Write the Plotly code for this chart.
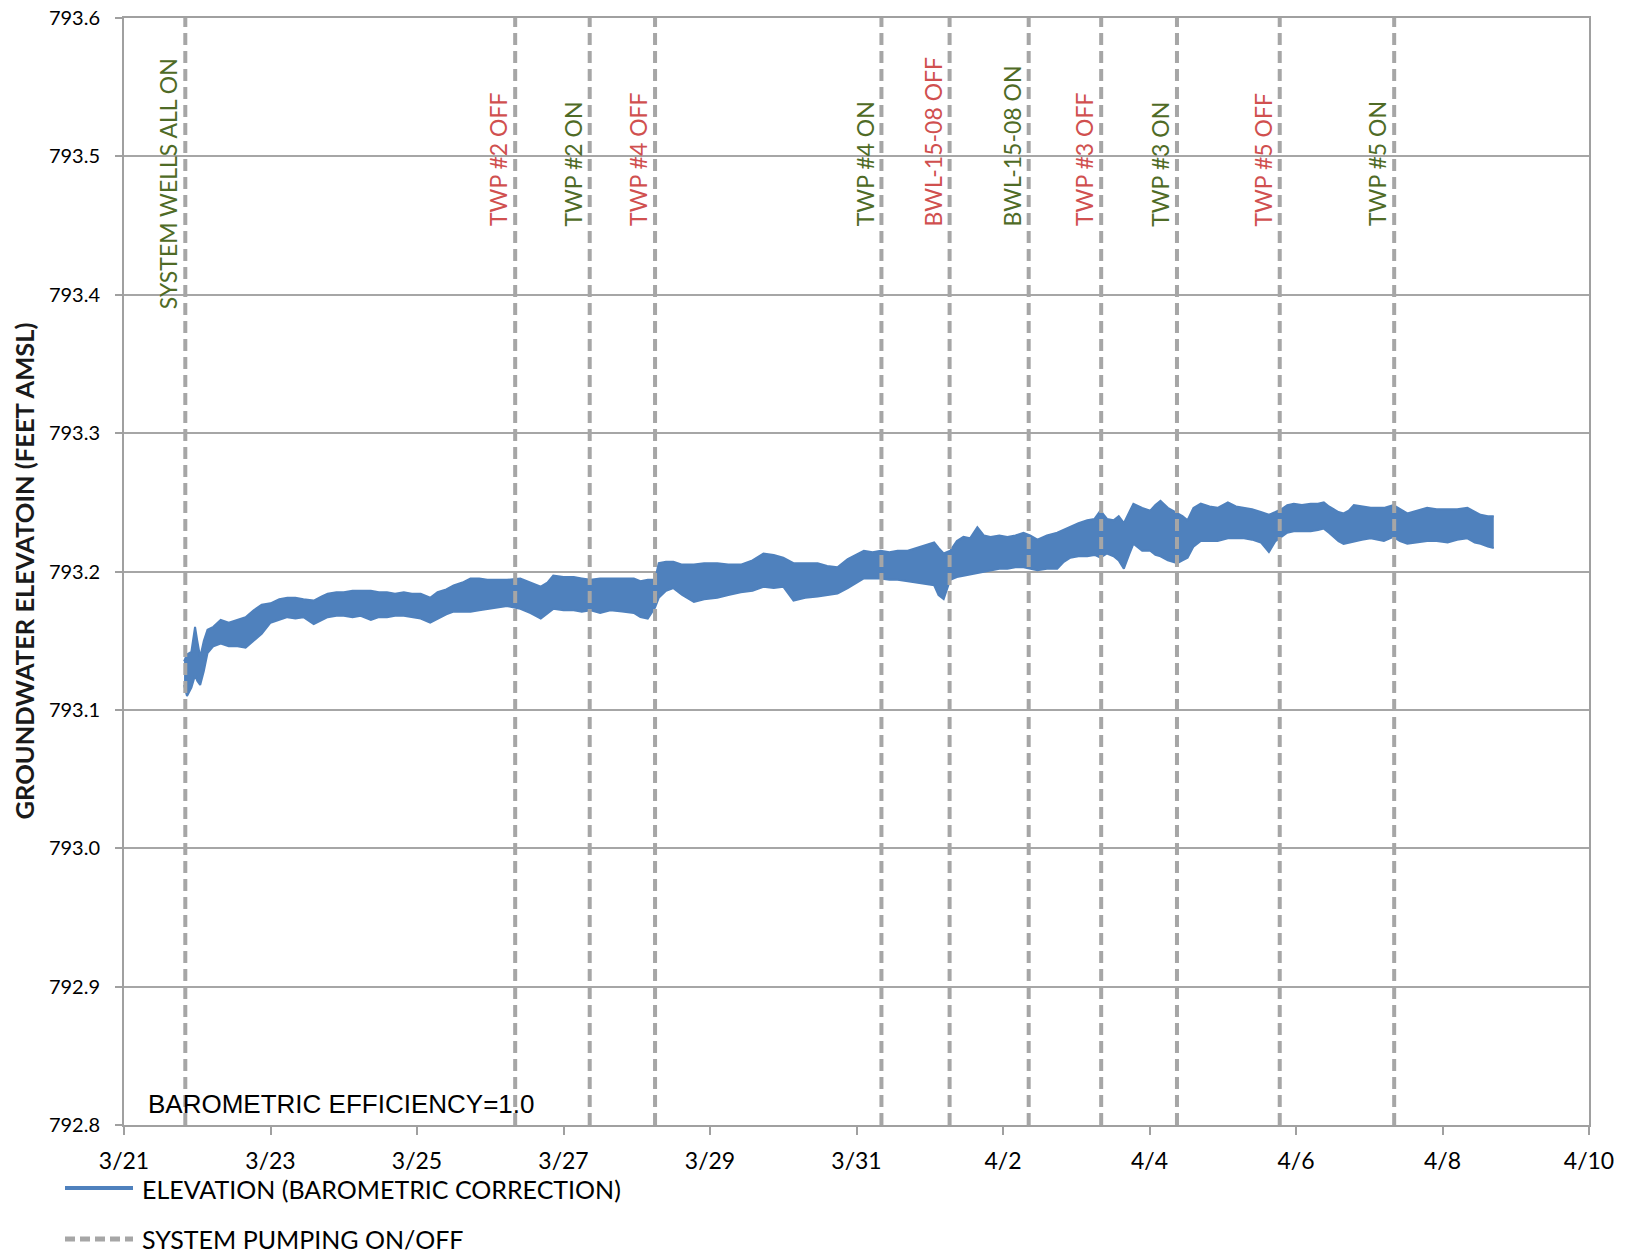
import pandas as pd
import plotly.graph_objects as go

# ---------------- data ----------------
START_DATE = "2016-03-21"

# elevation record: time (days after 3/21 00:00) with upper / lower edge of the plotted trace
ELEV_DAY = [0.82, 0.86, 0.92, 0.97, 1.00, 1.04, 1.09, 1.14, 1.22, 1.32, 1.43, 1.55, 1.66, 1.77, 1.88,
            2.00, 2.12, 2.23, 2.34, 2.45, 2.59, 2.70, 2.78, 2.90, 3.00, 3.12, 3.23, 3.37, 3.48, 3.59,
            3.70, 3.82, 3.93, 4.05, 4.18, 4.28, 4.40, 4.50, 4.62, 4.73, 4.85, 4.96, 5.10, 5.23, 5.41,
            5.55, 5.69, 5.78, 5.86, 6.00, 6.14, 6.25, 6.37, 6.50, 6.64, 6.80, 6.96, 7.05, 7.15, 7.25,
            7.30, 7.40, 7.50, 7.62, 7.78, 7.92, 8.10, 8.25, 8.42, 8.58, 8.73, 8.87, 9.00, 9.14, 9.30,
            9.47, 9.60, 9.74, 9.88, 10.00, 10.10, 10.22, 10.33, 10.45, 10.56, 10.70, 10.83, 10.95, 11.06, 11.12,
            11.19, 11.28, 11.37, 11.46, 11.55, 11.65, 11.74, 11.83, 11.95, 12.06, 12.17, 12.28, 12.37, 12.47, 12.60,
            12.74, 12.83, 12.92, 13.03, 13.15, 13.25, 13.33, 13.42, 13.51, 13.58, 13.65, 13.72, 13.78, 13.90, 14.01,
            14.08, 14.15, 14.25, 14.38, 14.45, 14.52, 14.60, 14.70, 14.82, 14.93, 15.07, 15.18, 15.29, 15.40, 15.52,
            15.63, 15.72, 15.80, 15.88, 15.97, 16.08, 16.20, 16.30, 16.38, 16.45, 16.51, 16.58, 16.65, 16.72, 16.79,
            16.90, 17.02, 17.10, 17.20, 17.33, 17.42, 17.52, 17.65, 17.79, 17.92, 18.07, 18.20, 18.34, 18.44, 18.52,
            18.62, 18.70]
ELEV_HIGH = [793.135, 793.140, 793.142, 793.160, 793.150, 793.138, 793.150, 793.158, 793.160, 793.165, 793.163, 793.165, 793.167, 793.172, 793.176,
             793.177, 793.180, 793.181, 793.181, 793.180, 793.179, 793.182, 793.184, 793.185, 793.185, 793.186, 793.186, 793.186, 793.185, 793.185,
             793.184, 793.185, 793.184, 793.184, 793.181, 793.185, 793.187, 793.190, 793.192, 793.195, 793.195, 793.194, 793.194, 793.194, 793.195,
             793.192, 793.189, 793.192, 793.197, 793.196, 793.196, 793.195, 793.194, 793.195, 793.195, 793.195, 793.195, 793.193, 793.194, 793.194,
             793.206, 793.207, 793.207, 793.205, 793.205, 793.206, 793.206, 793.205, 793.205, 793.208, 793.213, 793.212, 793.210, 793.206, 793.206,
             793.206, 793.204, 793.203, 793.209, 793.212, 793.215, 793.214, 793.215, 793.214, 793.215, 793.215, 793.217, 793.219, 793.221, 793.217,
             793.213, 793.215, 793.222, 793.225, 793.224, 793.232, 793.226, 793.225, 793.226, 793.225, 793.226, 793.228, 793.226, 793.223, 793.226,
             793.228, 793.230, 793.232, 793.235, 793.237, 793.238, 793.244, 793.238, 793.237, 793.240, 793.235, 793.242, 793.249, 793.246, 793.244,
             793.248, 793.251, 793.246, 793.242, 793.240, 793.237, 793.246, 793.249, 793.247, 793.246, 793.250, 793.247, 793.246, 793.245, 793.243,
             793.241, 793.243, 793.245, 793.248, 793.249, 793.248, 793.249, 793.249, 793.250, 793.247, 793.245, 793.243, 793.242, 793.244, 793.248,
             793.247, 793.246, 793.246, 793.246, 793.248, 793.245, 793.242, 793.244, 793.246, 793.245, 793.245, 793.245, 793.246, 793.243, 793.241,
             793.240, 793.240]
ELEV_LOW = [793.118, 793.110, 793.116, 793.125, 793.121, 793.118, 793.128, 793.141, 793.146, 793.148, 793.146, 793.146, 793.145, 793.150, 793.155,
            793.163, 793.165, 793.167, 793.166, 793.167, 793.162, 793.165, 793.167, 793.168, 793.168, 793.167, 793.168, 793.165, 793.167, 793.167,
            793.168, 793.168, 793.167, 793.166, 793.163, 793.166, 793.169, 793.171, 793.171, 793.171, 793.172, 793.173, 793.174, 793.175, 793.173,
            793.170, 793.166, 793.170, 793.173, 793.172, 793.172, 793.171, 793.172, 793.170, 793.172, 793.171, 793.170, 793.167, 793.166, 793.174,
            793.181, 793.186, 793.188, 793.183, 793.178, 793.180, 793.181, 793.183, 793.185, 793.186, 793.189, 793.188, 793.189, 793.179, 793.181,
            793.182, 793.183, 793.184, 793.188, 793.192, 793.195, 793.195, 793.195, 793.194, 793.194, 793.193, 793.192, 793.191, 793.190, 793.183,
            793.180, 793.194, 793.196, 793.197, 793.198, 793.199, 793.200, 793.201, 793.202, 793.202, 793.203, 793.203, 793.202, 793.201, 793.202,
            793.202, 793.207, 793.210, 793.211, 793.211, 793.212, 793.210, 793.213, 793.211, 793.208, 793.202, 793.212, 793.220, 793.215, 793.215,
            793.212, 793.211, 793.208, 793.206, 793.208, 793.210, 793.218, 793.222, 793.222, 793.222, 793.224, 793.224, 793.224, 793.223, 793.221,
            793.214, 793.222, 793.225, 793.228, 793.229, 793.229, 793.229, 793.230, 793.231, 793.228, 793.225, 793.222, 793.220, 793.221, 793.222,
            793.223, 793.224, 793.223, 793.222, 793.225, 793.222, 793.220, 793.221, 793.222, 793.222, 793.221, 793.223, 793.224, 793.221, 793.220,
            793.218, 793.217]

# pumping on/off events
EVENT_TIMES = ["2016-03-21 20:05", "2016-03-26 08:10", "2016-03-27 08:35", "2016-03-28 06:00",
               "2016-03-31 08:10", "2016-04-01 06:30", "2016-04-02 08:25", "2016-04-03 08:10",
               "2016-04-04 09:00", "2016-04-05 18:40", "2016-04-07 08:10"]
EVENT_LABELS = ["SYSTEM WELLS ALL ON", "TWP #2 OFF", "TWP #2 ON", "TWP #4 OFF", "TWP #4 ON",
                "BWL-15-08 OFF", "BWL-15-08 ON", "TWP #3 OFF", "TWP #3 ON", "TWP #5 OFF", "TWP #5 ON"]

Y_TICKS = [792.8, 792.9, 793.0, 793.1, 793.2, 793.3, 793.4, 793.5, 793.6]
X_RANGE = ["2016-03-21", "2016-04-10"]

# ---------------- styling ----------------
BLUE = "#4F81BD"
GREY = "#A6A6A6"
RED = "#D0504F"
GREEN = "#4F6B26"
AXIS_GREY = "#A0A0A0"

start = pd.Timestamp(START_DATE)
elev_time = [start + pd.Timedelta(days=d) for d in ELEV_DAY]

fig = go.Figure()

fig.add_trace(go.Scatter(x=elev_time, y=ELEV_LOW, mode="lines",
                         line=dict(color=BLUE, width=2), showlegend=False,
                         name="ELEVATION (BAROMETRIC CORRECTION)"))
fig.add_trace(go.Scatter(x=elev_time, y=ELEV_HIGH, mode="lines", fill="tonexty",
                         fillcolor=BLUE, line=dict(color=BLUE, width=2), showlegend=False,
                         name="ELEVATION (BAROMETRIC CORRECTION)"))

ev_x, ev_y = [], []
for t in EVENT_TIMES:
    ev_x += [t, t, None]
    ev_y += [Y_TICKS[0], Y_TICKS[-1], None]
fig.add_trace(go.Scatter(x=ev_x, y=ev_y, mode="lines",
                         line=dict(color=GREY, width=4, dash="12px,6px"),
                         showlegend=False, name="SYSTEM PUMPING ON/OFF"))

annotations = []
for t, lab in zip(EVENT_TIMES, EVENT_LABELS):
    col = RED if lab.endswith("OFF") else GREEN
    ybase = 793.388 if lab.startswith("SYSTEM") else 793.448
    annotations.append(dict(x=t, y=ybase, xref="x", yref="y", text=lab, textangle=-90,
                            showarrow=False, xanchor="center", yanchor="bottom", xshift=-17,
                            font=dict(family="Lato", size=23, color=col)))

W, H = 1627, 1257
ML, MR, MT, MB = 124, 38, 18, 132
PW, PH = W - ML - MR, H - MT - MB


def px_x(px):
    return (px - ML) / PW


def px_y(py):
    return (H - MB - py) / PH


# y-axis title
annotations.append(dict(x=px_x(23), y=0.5, xref="paper", yref="paper",
                        text="<b>GROUNDWATER ELEVATOIN (FEET AMSL)</b>", textangle=-90,
                        showarrow=False, xanchor="center", yanchor="middle",
                        font=dict(family="Lato", size=25.5, color="#1a1a1a")))
# note
annotations.append(dict(x=px_x(146), y=px_y(1104), xref="paper", yref="paper",
                        text="BAROMETRIC EFFICIENCY=1.0", showarrow=False,
                        xanchor="left", yanchor="middle",
                        font=dict(family="Liberation Sans", size=26, color="#000000")))
# legend
legend_items = [("ELEVATION (BAROMETRIC CORRECTION)", 1189),
                ("SYSTEM PUMPING ON/OFF", 1239)]
for txt, py in legend_items:
    annotations.append(dict(x=px_x(140), y=px_y(py), xref="paper", yref="paper",
                            text=txt, showarrow=False, xanchor="left", yanchor="middle",
                            font=dict(family="Lato", size=25, color="#000000")))

shapes = [
    dict(type="line", xref="paper", yref="paper", x0=px_x(65), x1=px_x(133),
         y0=px_y(1188), y1=px_y(1188), line=dict(color=BLUE, width=4)),
    dict(type="line", xref="paper", yref="paper", x0=px_x(65), x1=px_x(133),
         y0=px_y(1239), y1=px_y(1239), line=dict(color=GREY, width=5, dash="10px,5px")),
]

fig.update_layout(
    width=W, height=H,
    margin=dict(l=ML, r=MR, t=MT, b=MB, autoexpand=False),
    paper_bgcolor="white", plot_bgcolor="white",
    annotations=annotations, shapes=shapes,
    showlegend=False,
    xaxis=dict(type="date", range=X_RANGE, tick0=X_RANGE[0], dtick=2 * 86400000,
               tickformat="%-m/%-d", ticks="outside", ticklen=8, tickwidth=2,
               tickcolor=AXIS_GREY, showgrid=False, showline=True, linecolor=AXIS_GREY,
               linewidth=2, mirror=True, zeroline=False, ticklabelstandoff=6, automargin=False,
               tickfont=dict(family="Lato", size=23, color="#000000")),
    yaxis=dict(range=[Y_TICKS[0], Y_TICKS[-1]], tickvals=Y_TICKS,
               ticktext=[f"{v:.1f}" for v in Y_TICKS], ticks="outside", ticklen=7,
               tickwidth=2, tickcolor=AXIS_GREY, showgrid=True, gridcolor=GREY, gridwidth=2,
               showline=True, linecolor=AXIS_GREY, linewidth=2, mirror=True, zeroline=False,
               ticklabelstandoff=11, automargin=False,
               tickfont=dict(family="Lato", size=20, color="#000000")),
)

fig.write_html("out.html")
